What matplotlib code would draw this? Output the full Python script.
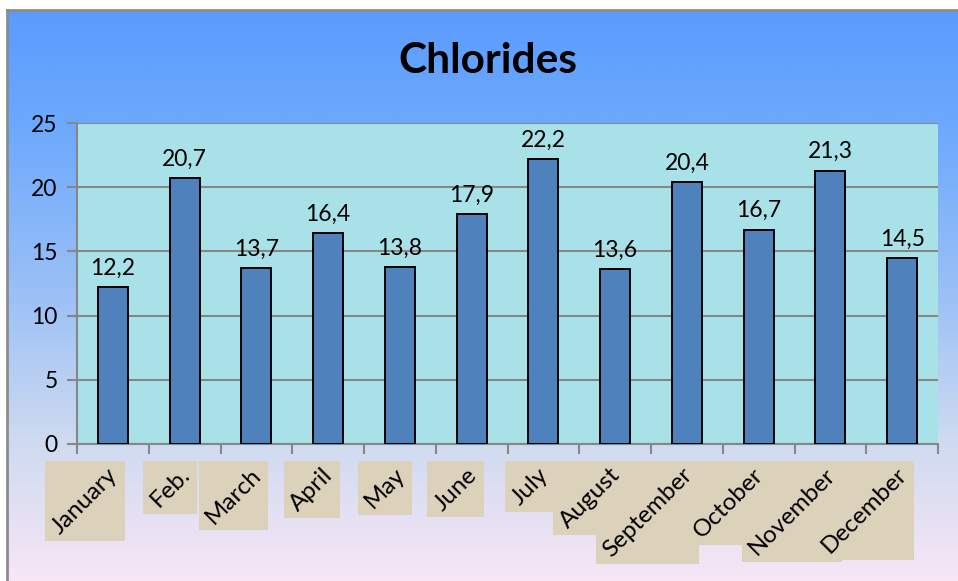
import numpy as np
import matplotlib
matplotlib.use('Agg')
import matplotlib.pyplot as plt
from matplotlib.colors import LinearSegmentedColormap
from matplotlib.patches import Rectangle
from matplotlib.transforms import ScaledTranslation, blended_transform_factory

months = ['January', 'Feb.', 'March', 'April', 'May', 'June', 'July',
          'August', 'September', 'October', 'November', 'December']
chlorides = [12.2, 20.7, 13.7, 16.4, 13.8, 17.9, 22.2, 13.6, 20.4, 16.7, 21.3, 14.5]
yticks = [0, 5, 10, 15, 20, 25]

W, H, DPI = 958, 581, 100
plt.rcParams['font.family'] = ['Lato', 'DejaVu Sans']

fig = plt.figure(figsize=(W / DPI, H / DPI), dpi=DPI, facecolor='white')

# chart background: blue -> lavender gradient with grey frame
bg = fig.add_axes([7 / W, 0, (W - 7) / W, (H - 10) / H], zorder=-10)
grad = LinearSegmentedColormap.from_list(
    'bg', [(0.0, '#5b9bfd'), (0.2, '#6ca9fd'), (0.5, '#9cc0f6'),
           (0.75, '#cddaf0'), (1.0, '#f8e6f6')])
bg.imshow(np.linspace(0, 1, 256).reshape(-1, 1), aspect='auto', cmap=grad,
          extent=[0, 1, 0, 1], origin='upper')
bg.set_xlim(0, 1)
bg.set_ylim(0, 1)
bg.set_xticks([])
bg.set_yticks([])
for side in ['right', 'bottom']:
    bg.spines[side].set_visible(False)
for side in ['left', 'top']:
    bg.spines[side].set_color('#8c8c8c')
    bg.spines[side].set_linewidth(2)

# plot area
left, right, top, bottom = 77, 938, 123, 444
ax = fig.add_axes([left / W, (H - bottom) / H, (right - left) / W, (bottom - top) / H])
ax.set_facecolor('#a9e1e9')

x = np.arange(len(months))
bars = ax.bar(x, chlorides, width=0.42, color='#4f81bd', edgecolor='black',
              linewidth=1.4, zorder=3)
for xi, v in zip(x, chlorides):
    ax.annotate(f'{v:.1f}'.replace('.', ','), (xi, v), xytext=(0, 6),
                textcoords='offset points', ha='center', va='bottom', fontsize=16.5)

ax.set_xlim(-0.5, len(months) - 0.5)
ax.set_ylim(0, 25)
ax.set_yticks(yticks)
ax.set_yticklabels([str(t) for t in yticks], fontsize=16.5)
ax.yaxis.grid(True, color='#868686', linewidth=1.5, zorder=1)
ax.set_axisbelow(True)
ax.set_xticks(np.arange(len(months) + 1) - 0.5)
ax.set_xticklabels([])
ax.tick_params(axis='both', direction='out', length=7, width=1.5, color='#868686', pad=7)
for side in ['top', 'right']:
    ax.spines[side].set_visible(False)
for side in ['left', 'bottom']:
    ax.spines[side].set_color('#868686')
    ax.spines[side].set_linewidth(1.5)

fig.text(488 / W, 1 - 61 / H, 'Chlorides', ha='center', va='center',
         fontsize=30.5, fontweight='bold')

# rotated month labels on beige boxes
trans = blended_transform_factory(ax.transData, ax.transAxes)
labels = []
for xi, m in zip(x, months):
    off = ScaledTranslation(9 / DPI, -20 / DPI, fig.dpi_scale_trans)
    t = ax.text(xi, 0, m, transform=trans + off, rotation=45, ha='right',
                va='top', fontsize=17.5, clip_on=False, zorder=5)
    labels.append(t)

fig.canvas.draw()
inv = fig.transFigure.inverted()
for t in labels:
    bb = t.get_window_extent()
    (x0, y0), (x1, y1) = inv.transform([[bb.x0 - 3, bb.y0 - 3], [bb.x1 + 3, bb.y1 + 3]])
    fig.patches.append(Rectangle((x0, y0), x1 - x0, y1 - y0, transform=fig.transFigure,
                                 facecolor='#dcd2bc', edgecolor='none', zorder=-5))

fig.savefig('out.png', dpi=DPI, facecolor=fig.get_facecolor())
